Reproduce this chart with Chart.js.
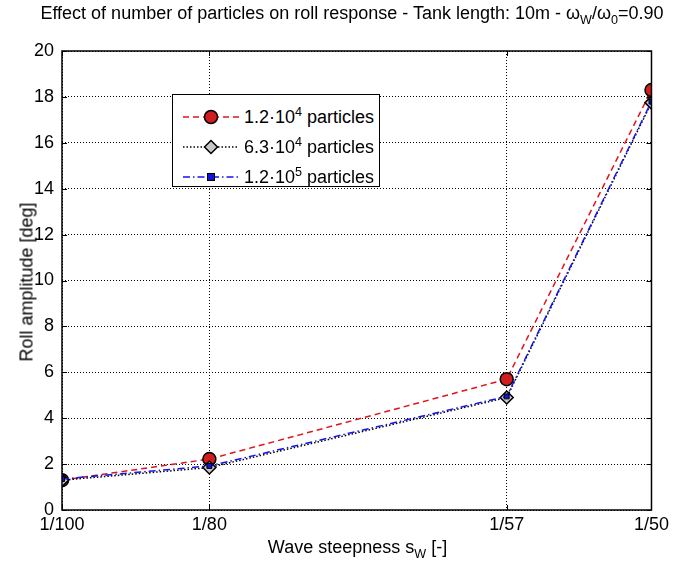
<!DOCTYPE html>
<html>
<head>
<meta charset="utf-8">
<script src="https://cdn.jsdelivr.net/npm/chart.js@4"></script>
<style>
  html, body { margin: 0; padding: 0; background: #fff; }
  #wrap { position: relative; width: 673px; height: 561px; font-family: 'Liberation Sans', Arial, sans-serif; color: #000; }
  #grafico { position: absolute; left: 0; top: 0; }
  .txt { position: absolute; white-space: nowrap; font-size: 18px; }
  #titulo { left: 0; width: 704px; top: 3px; text-align: center; }
  #xlabel { left: 62px; width: 591px; top: 537px; text-align: center; }
  #ylabel { left: 27px; top: 282px; transform: translate(-50%, -50%) rotate(-90deg); }
  sub, sup { font-size: 70%; line-height: 0; }
  #legenda { position: absolute; left: 172px; top: 94px; width: 206px; height: 91px; border: 1px solid #000; background: #fff; }
  .item { position: absolute; left: 10px; height: 30px; display: flex; align-items: center; font-size: 18px; }
  .item svg { margin-right: 5px; }
</style>
</head>
<body>
<div id="wrap">
  <canvas id="grafico" width="673" height="561"></canvas>
  <div id="titulo" class="txt">Effect of number of particles on roll response - Tank length: 10m - ω<sub>W</sub>/ω<sub>0</sub>=0.90</div>
  <div id="xlabel" class="txt">Wave steepness s<sub>W</sub> [-]</div>
  <div id="ylabel" class="txt">Roll amplitude [deg]</div>
  <div id="legenda"></div>
</div>
<script>
// Dados
const steepness = [1 / 100, 1 / 80, 1 / 57, 1 / 50];
const xTickLabels = ['1/100', '1/80', '1/57', '1/50'];
const yTicks = [0, 2, 4, 6, 8, 10, 12, 14, 16, 18, 20];

const roll12e4 = [1.3, 2.22, 5.7, 18.3];
const roll63e4 = [1.3, 1.85, 4.9, 17.75];
const roll12e5 = [1.35, 1.92, 4.95, 17.8];

const seriesNames = ['1.2·10<sup>4</sup> particles', '6.3·10<sup>4</sup> particles', '1.2·10<sup>5</sup> particles'];

const pts = (ys) => steepness.map((x, i) => ({ x: x, y: ys[i] }));

// Moldura e ticks internos estilo MATLAB
const caixaPlugin = {
    id: 'caixa',
    afterDraw(chart) {
        const { ctx, chartArea: a, scales } = chart;
        ctx.save();
        ctx.strokeStyle = '#000';
        ctx.lineWidth = 1.5;
        ctx.setLineDash([]);
        ctx.strokeRect(a.left, a.top, a.right - a.left, a.bottom - a.top);
        ctx.lineWidth = 1;
        const t = 5;
        scales.y.ticks.forEach(tk => {
            const y = Math.round(scales.y.getPixelForValue(tk.value)) + 0.5;
            ctx.beginPath();
            ctx.moveTo(a.left, y); ctx.lineTo(a.left + t, y);
            ctx.moveTo(a.right, y); ctx.lineTo(a.right - t, y);
            ctx.stroke();
        });
        scales.x.ticks.forEach(tk => {
            const x = Math.round(scales.x.getPixelForValue(tk.value)) + 0.5;
            ctx.beginPath();
            ctx.moveTo(x, a.bottom); ctx.lineTo(x, a.bottom - t);
            ctx.moveTo(x, a.top); ctx.lineTo(x, a.top + t);
            ctx.stroke();
        });
        ctx.restore();
    }
};

const fonteTicks = { family: "'Liberation Sans', Arial, sans-serif", size: 18 };

const ctx = document.getElementById('grafico').getContext('2d');
const chart = new Chart(ctx, {
    type: 'line',
    data: {
        datasets: [{
            label: '1.2e4',
            data: pts(roll12e4),
            borderColor: '#e0141e',
            borderWidth: 1.5,
            borderDash: [6, 4],
            pointStyle: 'circle',
            pointRadius: 6.5,
            pointBackgroundColor: '#d01e1e',
            pointBorderColor: '#000',
            pointBorderWidth: 1.5,
            order: 2
        }, {
            label: '6.3e4',
            data: pts(roll63e4),
            borderColor: '#000',
            borderWidth: 1.5,
            borderDash: [1.5, 2],
            pointStyle: 'rectRot',
            pointRadius: 6.5,
            pointBackgroundColor: '#c8c8c8',
            pointBorderColor: '#000',
            pointBorderWidth: 1.5,
            order: 1
        }, {
            label: '1.2e5',
            data: pts(roll12e5),
            borderColor: '#1414f0',
            borderWidth: 1.5,
            borderDash: [7, 3, 1.5, 3],
            pointStyle: 'rect',
            pointRadius: 3.5,
            pointBackgroundColor: '#1414d0',
            pointBorderColor: '#000',
            pointBorderWidth: 1,
            order: 0
        }]
    },
    options: {
        responsive: false,
        animation: false,
        layout: { padding: { top: 51, right: 20, left: 0, bottom: 0 } },
        plugins: { legend: { display: false }, tooltip: { enabled: false }, title: { display: false } },
        scales: {
            x: {
                type: 'linear',
                min: steepness[0],
                max: steepness[steepness.length - 1],
                afterBuildTicks: (s) => { s.ticks = steepness.map(v => ({ value: v })); },
                afterFit: (s) => { s.height = 51; },
                grid: { color: '#000', lineWidth: 1, drawTicks: false },
                border: { display: false, dash: [1, 2] },
                ticks: {
                    color: '#000',
                    padding: 4,
                    font: fonteTicks,
                    autoSkip: false,
                    maxRotation: 0,
                    callback: (v) => {
                        const i = steepness.findIndex(s => Math.abs(s - v) < 1e-9);
                        return i >= 0 ? xTickLabels[i] : '';
                    }
                }
            },
            y: {
                min: yTicks[0],
                max: yTicks[yTicks.length - 1],
                afterBuildTicks: (s) => { s.ticks = yTicks.map(v => ({ value: v })); },
                afterFit: (s) => { s.width = 62; },
                grid: { color: '#000', lineWidth: 1, drawTicks: false },
                border: { display: false, dash: [1, 2] },
                ticks: {
                    color: '#000',
                    padding: 8,
                    font: fonteTicks
                }
            }
        }
    },
    plugins: [caixaPlugin]
});

// Legenda em HTML (para os expoentes)
const legenda = document.getElementById('legenda');
const amostras = [
    '<svg width="56" height="16"><line x1="0" y1="8" x2="56" y2="8" stroke="#e0141e" stroke-width="1.5" stroke-dasharray="6 4"/><circle cx="28" cy="8" r="6.5" fill="#d01e1e" stroke="#000" stroke-width="1.5"/></svg>',
    '<svg width="56" height="16"><line x1="0" y1="8" x2="56" y2="8" stroke="#000" stroke-width="1.5" stroke-dasharray="1.5 2"/><polygon points="28,1.5 34.5,8 28,14.5 21.5,8" fill="#c8c8c8" stroke="#000" stroke-width="1.5"/></svg>',
    '<svg width="56" height="16"><line x1="0" y1="8" x2="56" y2="8" stroke="#1414f0" stroke-width="1.5" stroke-dasharray="7 3 1.5 3"/><rect x="24.5" y="4.5" width="7" height="7" fill="#1414d0" stroke="#000" stroke-width="1"/></svg>'
];
seriesNames.forEach((nome, i) => {
    const d = document.createElement('div');
    d.className = 'item';
    d.style.top = (7 + i * 30) + 'px';
    d.innerHTML = amostras[i] + '<span>' + nome + '</span>';
    legenda.appendChild(d);
});
</script>
</body>
</html>
